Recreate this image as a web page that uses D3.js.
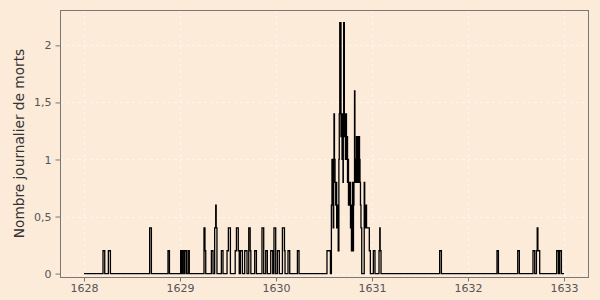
<!DOCTYPE html>
<html>
<head>
<meta charset="utf-8">
<script src="https://cdn.jsdelivr.net/npm/d3@7"></script>
<style>
  body { margin: 0; background: #fcebd9; }
  svg { display: block; }
</style>
</head>
<body>
<div id="chart"></div>
<script>
// dates in decimal years, value = daily deaths (5-day mean), step after each date
const dates = [
  1628.000,
  1628.198, 1628.216,
  1628.254, 1628.275,
  1628.684, 1628.702,
  1628.875, 1628.890,
  1629.007, 1629.020, 1629.028, 1629.042, 1629.049, 1629.066,
  1629.083, 1629.097,
  1629.250, 1629.260, 1629.268,
  1629.327, 1629.344,
  1629.361, 1629.372, 1629.377, 1629.385,
  1629.431, 1629.448,
  1629.490, 1629.504, 1629.525,
  1629.575, 1629.588, 1629.607, 1629.617,
  1629.629, 1629.650,
  1629.674, 1629.698,
  1629.716, 1629.731, 1629.738,
  1629.778, 1629.796,
  1629.854, 1629.872,
  1629.893, 1629.910,
  1629.945, 1629.966,
  1629.979, 1629.997,
  1630.015, 1630.035,
  1630.067, 1630.088, 1630.094,
  1630.125, 1630.143,
  1630.223, 1630.240,
  // epidemic peak
  1630.531, 1630.567, 1630.577, 1630.583, 1630.591, 1630.596, 1630.601, 1630.604,
  1630.609, 1630.615, 1630.622, 1630.627, 1630.632, 1630.640, 1630.648, 1630.655,
  1630.659, 1630.664, 1630.677, 1630.682, 1630.688, 1630.693, 1630.698, 1630.701,
  1630.705, 1630.712, 1630.718, 1630.723, 1630.728, 1630.734, 1630.740, 1630.745,
  1630.750, 1630.755, 1630.761, 1630.766, 1630.771, 1630.776, 1630.782, 1630.786,
  1630.791, 1630.797, 1630.802, 1630.807, 1630.812, 1630.818, 1630.822, 1630.828,
  1630.833, 1630.838, 1630.844, 1630.849, 1630.854, 1630.859, 1630.865, 1630.870,
  1630.875, 1630.880, 1630.885, 1630.893, 1630.919, 1630.924, 1630.930, 1630.938,
  1630.943, 1630.972, 1630.983,
  1631.014, 1631.031,
  1631.073, 1631.081, 1631.085, 1631.094,
  1631.705, 1631.723,
  1632.302, 1632.317,
  1632.518, 1632.535,
  1632.677, 1632.695,
  1632.713, 1632.721, 1632.728, 1632.747,
  1632.924, 1632.942,
  1632.955, 1632.973,
  1633.000
];
const deaths = [
  0,
  0.2, 0,
  0.2, 0,
  0.4, 0,
  0.2, 0,
  0.2, 0, 0.2, 0, 0.2, 0,
  0.2, 0,
  0.4, 0.2, 0,
  0.2, 0,
  0.4, 0.6, 0.4, 0,
  0.2, 0,
  0.2, 0.4, 0,
  0.2, 0.4, 0.2, 0,
  0.2, 0,
  0.2, 0,
  0.4, 0.2, 0,
  0.2, 0,
  0.4, 0,
  0.2, 0,
  0.2, 0,
  0.4, 0,
  0.2, 0,
  0.4, 0.2, 0,
  0.2, 0,
  0.2, 0,
  // epidemic peak
  0.2, 0, 0.6, 1.0, 0.6, 0.4, 1.0, 1.4,
  1.0, 0.8, 0.6, 0.8, 0.4, 0.6, 0.2, 1.0,
  1.4, 2.2, 1.2, 1.4, 1.0, 1.4, 0.8, 1.2,
  2.2, 1.2, 1.4, 1.0, 1.4, 1.0, 1.2, 0.8,
  1.0, 0.6, 0.8, 0.6, 0.8, 0.4, 0.6, 0.2,
  0.6, 0.8, 0.2, 0.6, 0.8, 1.6, 0.8, 1.0,
  0.8, 1.2, 0.8, 1.0, 1.2, 0.8, 1.2, 1.0,
  0.8, 0.6, 0.4, 0, 0.8, 0.6, 0.4, 0.6,
  0.4, 0.2, 0,
  0.2, 0,
  0.2, 0.4, 0.2, 0,
  0.2, 0,
  0.2, 0,
  0.2, 0,
  0.2, 0,
  0.2, 0.4, 0.2, 0,
  0.2, 0,
  0.2, 0,
  0
];
const xTicks = [1628, 1629, 1630, 1631, 1632, 1633];
const yTicks = [0, 0.5, 1, 1.5, 2];
const yTitle = "Nombre journalier de morts";

var width = 600, height = 300;
var panelLeft = 60, panelRight = 588, panelTop = 10, panelBottom = 277;

var fr = d3.formatLocale({ decimal: ",", thousands: " ", grouping: [3], currency: ["", " €"] });
var fmt = fr.format("~g");

var x = d3.scaleLinear().domain([1627.75, 1633.25]).range([panelLeft, panelRight]);
var y = d3.scaleLinear().domain([-0.03, 2.31]).range([panelBottom, panelTop]);

var svg = d3.select("#chart").append("svg")
  .attr("width", width)
  .attr("height", height)
  .style("font-family", "'DejaVu Sans', sans-serif");

svg.append("rect")
  .attr("width", width)
  .attr("height", height)
  .attr("fill", "#fcebd9");

// grid
svg.append("g").selectAll("line").data(yTicks).enter().append("line")
  .attr("x1", panelLeft).attr("x2", panelRight)
  .attr("y1", d => Math.round(y(d)) + 0.5).attr("y2", d => Math.round(y(d)) + 0.5)
  .attr("stroke", "#fff5eb").attr("stroke-dasharray", "3,3");
svg.append("g").selectAll("line").data(xTicks).enter().append("line")
  .attr("y1", panelTop).attr("y2", panelBottom)
  .attr("x1", d => Math.round(x(d)) + 0.5).attr("x2", d => Math.round(x(d)) + 0.5)
  .attr("stroke", "#fff5eb").attr("stroke-dasharray", "3,3");

// series
var points = dates.map((d, i) => [d, deaths[i]]);
var line = d3.line()
  .x(d => x(d[0]))
  .y(d => y(d[1]))
  .curve(d3.curveStepAfter);

svg.append("path")
  .datum(points)
  .attr("d", line)
  .attr("fill", "none")
  .attr("stroke", "#000")
  .attr("stroke-width", 1.3);

// panel border
svg.append("rect")
  .attr("x", panelLeft + 0.5).attr("y", panelTop + 0.5)
  .attr("width", panelRight - panelLeft).attr("height", panelBottom - panelTop)
  .attr("fill", "none")
  .attr("stroke", "#7b7774");

var xAxis = svg.append("g")
  .attr("transform", "translate(0," + (panelBottom + 0.5) + ")")
  .call(d3.axisBottom(x).tickValues(xTicks).tickFormat(d3.format("d")).tickSize(4).tickPadding(3));
var yAxis = svg.append("g")
  .attr("transform", "translate(" + (panelLeft + 0.5) + ",0)")
  .call(d3.axisLeft(y).tickValues(yTicks).tickFormat(fmt).tickSize(5).tickPadding(4));

[xAxis, yAxis].forEach(function(a) {
  a.select(".domain").remove();
  a.selectAll(".tick line").attr("stroke", "#7b7774");
  a.selectAll(".tick text")
    .attr("fill", "#555")
    .style("font-family", "'DejaVu Sans', sans-serif")
    .style("font-size", "11px");
});

svg.append("text")
  .attr("transform", "translate(24," + ((panelTop + panelBottom) / 2) + ") rotate(-90)")
  .attr("text-anchor", "middle")
  .attr("fill", "#333")
  .style("font-size", "13.7px")
  .text(yTitle);
</script>
</body>
</html>
